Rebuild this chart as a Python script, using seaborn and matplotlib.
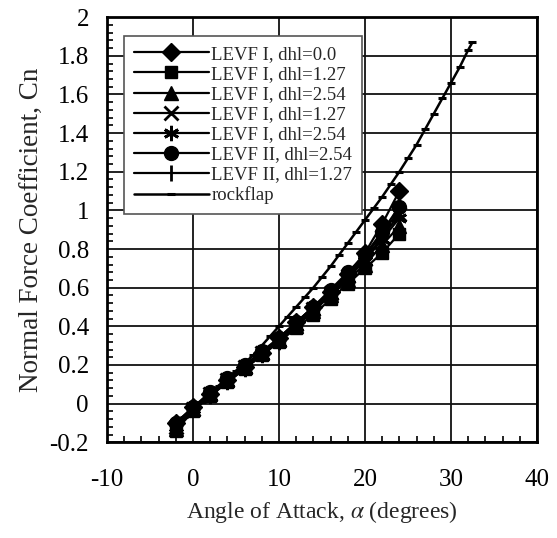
import matplotlib
matplotlib.use("Agg")
import matplotlib.pyplot as plt
from matplotlib.ticker import MultipleLocator
import pandas as pd
import seaborn as sns

# Angle of attack (degrees) for the LEVF runs
alpha_levf = [-2, 0, 2, 4, 6, 8, 10, 12, 14, 16, 18, 20, 22, 24]

cn_levf1_dhl0 = [-0.10, -0.02, 0.05, 0.12, 0.19, 0.26, 0.34, 0.42, 0.50, 0.58, 0.67, 0.78, 0.93, 1.10]
cn_levf1_dhl127a = [-0.14, -0.04, 0.04, 0.11, 0.18, 0.25, 0.32, 0.39, 0.46, 0.54, 0.62, 0.70, 0.78, 0.88]
cn_levf1_dhl254a = [-0.13, -0.03, 0.05, 0.12, 0.19, 0.26, 0.33, 0.40, 0.48, 0.56, 0.64, 0.72, 0.82, 0.92]
cn_levf1_dhl127b = [-0.12, -0.03, 0.05, 0.12, 0.19, 0.26, 0.33, 0.41, 0.49, 0.57, 0.66, 0.75, 0.86, 0.98]
cn_levf1_dhl254b = [-0.12, -0.03, 0.04, 0.11, 0.18, 0.25, 0.32, 0.40, 0.48, 0.56, 0.65, 0.74, 0.85, 0.96]
cn_levf2_dhl254 = [-0.10, -0.02, 0.06, 0.13, 0.20, 0.27, 0.34, 0.42, 0.50, 0.59, 0.68, 0.77, 0.89, 1.02]
cn_levf2_dhl127 = [-0.11, -0.02, 0.05, 0.12, 0.19, 0.26, 0.34, 0.42, 0.50, 0.58, 0.67, 0.76, 0.88, 1.00]

# Rockflap configuration, 1-degree sweep
alpha_rock = [-2, -1, 0, 1, 2, 3, 4, 5, 6, 7, 8, 9, 10, 11, 12, 13, 14, 15, 16, 17,
              18, 19, 20, 21, 22, 23, 24, 25, 26, 27, 28, 29, 30, 31, 32, 32.5]
cn_rock = [-0.11, -0.07, -0.03, 0.01, 0.05, 0.09, 0.13, 0.17, 0.21, 0.25, 0.30, 0.35,
           0.40, 0.45, 0.50, 0.55, 0.60, 0.655, 0.71, 0.77, 0.83, 0.89, 0.95, 1.01,
           1.07, 1.135, 1.20, 1.27, 1.34, 1.42, 1.50, 1.58, 1.66, 1.74, 1.83, 1.87]

series_labels = ["LEVF I, dhl=0.0", "LEVF I, dhl=1.27", "LEVF I, dhl=2.54",
                 "LEVF I, dhl=1.27", "LEVF I, dhl=2.54", "LEVF II, dhl=2.54",
                 "LEVF II, dhl=1.27", "rockflap"]

x_ticks = [-10, 0, 10, 20, 30, 40]
y_ticks = [-0.2, 0, 0.2, 0.4, 0.6, 0.8, 1, 1.2, 1.4, 1.6, 1.8, 2]

sns.set_style("white")
plt.rcParams["font.family"] = ["Liberation Serif", "DejaVu Serif"]
plt.rcParams["mathtext.fontset"] = "stix"

fig = plt.figure(figsize=(5.57, 5.38), dpi=100)
ax = fig.add_axes([0.192, 0.178, 0.772, 0.79])

levf_sets = [
    (cn_levf1_dhl0, "D", 9, 1.0),
    (cn_levf1_dhl127a, "s", 9, 1.0),
    (cn_levf1_dhl254a, "^", 10, 1.0),
    (cn_levf1_dhl127b, "x", 10, 2.0),
    (cn_levf1_dhl254b, (6, 2, 0), 11, 2.0),
    (cn_levf2_dhl254, "o", 10, 1.0),
    (cn_levf2_dhl127, "|", 11, 2.0),
]

for (cn, mk, ms, mew), lab in zip(levf_sets, series_labels[:7]):
    df = pd.DataFrame({"alpha": alpha_levf, "cn": cn})
    sns.lineplot(data=df, x="alpha", y="cn", ax=ax, color="black", lw=1.6,
                 marker=mk, markersize=ms, markeredgewidth=mew,
                 markeredgecolor="black", markerfacecolor="black", label=lab)

df_rock = pd.DataFrame({"alpha": alpha_rock, "cn": cn_rock})
sns.lineplot(data=df_rock, x="alpha", y="cn", ax=ax, color="black", lw=1.8,
             marker="_", markersize=6, markeredgewidth=2.2,
             markeredgecolor="black", label=series_labels[7])

ax.set_xlim(-10, 40)
ax.set_ylim(-0.2, 2)
ax.set_xticks(x_ticks)
ax.set_yticks(y_ticks)
ax.set_xticklabels([f"{v:g}" for v in x_ticks])
ax.set_yticklabels([f"{v:g}" for v in y_ticks])
ax.xaxis.set_minor_locator(MultipleLocator(2))
ax.yaxis.set_minor_locator(MultipleLocator(0.04))
ax.tick_params(axis="both", which="major", direction="in", length=0,
               labelsize=18, colors="black")
ax.tick_params(axis="y", which="major", pad=13)
ax.tick_params(axis="x", which="major", pad=19)
ax.tick_params(axis="both", which="minor", direction="in", length=4,
               width=1.2, color="black", bottom=True, left=True)
ax.grid(True, which="major", color="#111111", lw=1.3)
ax.set_axisbelow(True)
for sp in ax.spines.values():
    sp.set_color("black")
    sp.set_linewidth(2)

ax.set_xlabel(r"Angle of Attack, $\alpha$ (degrees)", fontsize=17, labelpad=6)
ax.set_ylabel("Normal Force Coefficient, Cn", fontsize=19.5, labelpad=4)

leg = ax.legend(loc="upper left", bbox_to_anchor=(0.04, 0.955), borderaxespad=0,
                fontsize=13.5, handlelength=4.0, labelspacing=0.16,
                handletextpad=0.15, borderpad=0.5, fancybox=False,
                framealpha=1, edgecolor="#555555")
leg.get_frame().set_linewidth(1.2)

fig.savefig("out.png", dpi=100)
